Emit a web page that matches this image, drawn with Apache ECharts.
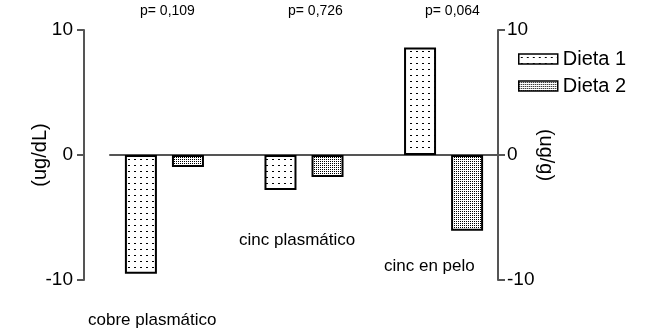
<!DOCTYPE html>
<html>
<head>
<meta charset="utf-8">
<script src="https://cdn.jsdelivr.net/npm/echarts@6/dist/echarts.min.js"></script>
<style>
html,body{margin:0;padding:0;background:#fff;}
#chart{width:647px;height:333px;}
</style>
</head>
<body>
<div id="chart"></div>
<script>
// ---- data ----
const categories = ['cobre plasmático', 'cinc plasmático', 'cinc en pelo'];
const seriesNames = ['Dieta 1', 'Dieta 2'];
const dieta1 = [-9.5, -2.8, 8.6];
const dieta2 = [-0.95, -1.75, -6.05];
const pValues = ['p= 0,109', 'p= 0,726', 'p= 0,064'];
const yTicks = [-10, 0, 10];
const leftAxisName = '(ug/dL)';
const rightAxisName = '(ug/g)';

// ---- patterns ----
function makePattern(w, h, dots) {
  const c = document.createElement('canvas');
  c.width = w; c.height = h;
  const g = c.getContext('2d');
  g.fillStyle = '#fff'; g.fillRect(0, 0, w, h);
  g.fillStyle = '#000';
  dots.forEach(d => g.fillRect(d[0], d[1], d[2], d[3]));
  return { image: c, repeat: 'repeat' };
}
const pat1 = makePattern(6, 6, [[2, 3, 2, 1]]);
const pat2 = makePattern(2, 2, [[0, 1, 1, 1]]);

const font = '"Liberation Sans", Arial, sans-serif';
const axisColor = '#555';

const chart = echarts.init(document.getElementById('chart'), null, { renderer: 'canvas' });

function yAxisCfg(pos, offset, name, rotate) {
  return {
    type: 'value', position: pos, offset: offset,
    min: yTicks[0], max: yTicks[yTicks.length - 1], interval: 10,
    axisLine: { show: true, onZero: false, lineStyle: { color: axisColor, width: 2 } },
    axisTick: { show: true, length: 7, lineStyle: { color: axisColor, width: 2 } },
    axisLabel: { color: '#000', fontSize: 19, fontFamily: font, margin: pos === 'left' ? 11 : 9 },
    splitLine: { show: false },
    name: name, nameLocation: 'middle', nameGap: pos === 'left' ? 34 : 38,
    nameMoveOverlap: false,
    nameRotate: rotate,
    nameTextStyle: { color: '#000', fontSize: 20, fontFamily: font }
  };
}

const barStyle = (p) => ({ color: p, borderColor: '#000', borderWidth: 2 });

const graphics = [];
const pLefts = [140, 288, 425];
pValues.forEach((t, i) => graphics.push({
  type: 'text', left: pLefts[i], top: 4,
  style: { text: t, font: '14px ' + font, fill: '#000' }
}));
const catPos = [[88, 312], [239, 232], [384, 258]];
categories.forEach((t, i) => graphics.push({
  type: 'text', left: catPos[i][0], top: catPos[i][1],
  style: { text: t, font: '17px ' + font, fill: '#000' }
}));

chart.setOption({
  animation: false,
  backgroundColor: '#fff',
  grid: { left: 110, right: 149, top: 30, bottom: 53, containLabel: false },
  legend: {
    orient: 'vertical', left: 513, top: 44, itemGap: 7,
    itemWidth: 39, itemHeight: 10, icon: 'rect', itemStyle: { borderWidth: 1.5 },
    textStyle: { color: '#000', fontSize: 20, fontFamily: font },
    data: seriesNames
  },
  xAxis: {
    type: 'value', min: -0.39, max: 2.39,
    axisLine: { show: true, onZero: true, lineStyle: { color: axisColor, width: 2 } },
    axisTick: { show: false }, axisLabel: { show: false }, splitLine: { show: false }
  },
  yAxis: [
    yAxisCfg('left', 26, leftAxisName, 90),
    yAxisCfg('right', 0, rightAxisName, -90)
  ],
  series: [
    { name: seriesNames[0], type: 'bar', barWidth: 32, barGap: '47%',
      itemStyle: barStyle(pat1), data: dieta1.map((v, i) => [i, v]) },
    { name: seriesNames[1], type: 'bar', barWidth: 32, barGap: '47%',
      itemStyle: barStyle(pat2), data: dieta2.map((v, i) => [i, v]) }
  ],
  graphic: graphics
});
</script>
</body>
</html>
